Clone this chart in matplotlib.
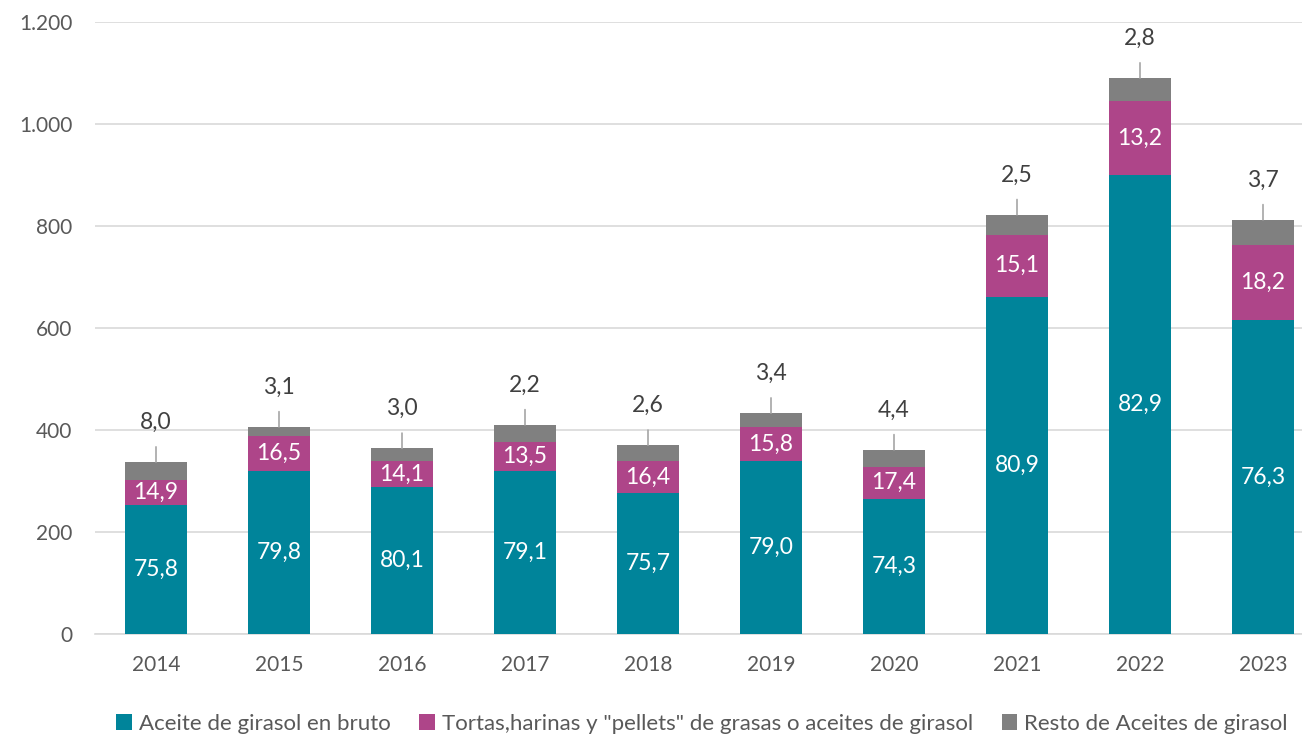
import matplotlib.pyplot as plt
import numpy as np

plt.rcParams['font.family'] = ['Lato', 'DejaVu Sans']

years = ["2014", "2015", "2016", "2017", "2018", "2019", "2020", "2021", "2022", "2023"]

# segment heights
aceite = [252, 320, 288, 320, 276, 339, 265, 661, 900, 616]
tortas = [50, 68, 51, 57, 63, 67, 63, 122, 145, 147]
resto = [35, 18, 25, 33, 31, 27, 33, 39, 45, 49]

# percentage labels shown on the bars
pct_aceite = ["75,8", "79,8", "80,1", "79,1", "75,7", "79,0", "74,3", "80,9", "82,9", "76,3"]
pct_tortas = ["14,9", "16,5", "14,1", "13,5", "16,4", "15,8", "17,4", "15,1", "13,2", "18,2"]
pct_resto = ["8,0", "3,1", "3,0", "2,2", "2,6", "3,4", "4,4", "2,5", "2,8", "3,7"]

names = ["Aceite de girasol en bruto",
         "Tortas,harinas y \"pellets\" de grasas o aceites de girasol",
         "Resto de Aceites de girasol"]
colors = ["#00849A", "#AE4589", "#808080"]

fig = plt.figure(figsize=(13.02, 7.34), dpi=100)
ax = fig.add_axes([94.5 / 1302, 100 / 734, (1302 - 94.5) / 1302, 612 / 734])

x = np.arange(len(years))
a = np.array(aceite)
t = np.array(tortas)
r = np.array(resto)
w = 0.51

ax.bar(x, a, w, color=colors[0], label=names[0], zorder=3)
ax.bar(x, t, w, bottom=a, color=colors[1], label=names[1], zorder=3)
ax.bar(x, r, w, bottom=a + t, color=colors[2], label=names[2], zorder=3)

for i in range(len(years)):
    ax.text(x[i], a[i] / 2, pct_aceite[i], ha="center", va="center",
            color="white", fontsize=16.5, zorder=4)
    ax.text(x[i], a[i] + t[i] / 2, pct_tortas[i], ha="center", va="center",
            color="white", fontsize=16.5, zorder=4)
    top = a[i] + t[i] + r[i]
    ax.annotate(pct_resto[i], xy=(x[i], top), xytext=(0, 21),
                textcoords="offset points", ha="center", va="bottom",
                color="#404040", fontsize=16.5,
                arrowprops=dict(arrowstyle="-", color="#A6A6A6", lw=1.2,
                                shrinkA=8, shrinkB=0))

ax.set_xlim(-0.5, -0.5 + (1302 - 94.5) / 123)
ax.set_ylim(0, 1200)
ax.set_yticks(range(0, 1201, 200))
ax.set_yticklabels(["0", "200", "400", "600", "800", "1.000", "1.200"])
ax.set_xticks(x)
ax.set_xticklabels(years)
ax.tick_params(axis="both", length=0, labelsize=15, colors="#595959")
ax.tick_params(axis="x", pad=15)
ax.tick_params(axis="y", pad=16)
ax.grid(axis="y", color="#D9D9D9", lw=1.2, zorder=0)
for s in ["top", "right", "left"]:
    ax.spines[s].set_visible(False)
ax.spines["bottom"].set_color("#D9D9D9")
ax.spines["bottom"].set_linewidth(1.2)

leg = ax.legend(loc="upper center", bbox_to_anchor=(0.503, -0.112), ncol=3,
                frameon=False, fontsize=16, handlelength=0.7, handleheight=0.7,
                handletextpad=0.3, columnspacing=1.3, borderpad=0)
for txt in leg.get_texts():
    txt.set_color("#595959")

fig.savefig("out.png", dpi=100)
